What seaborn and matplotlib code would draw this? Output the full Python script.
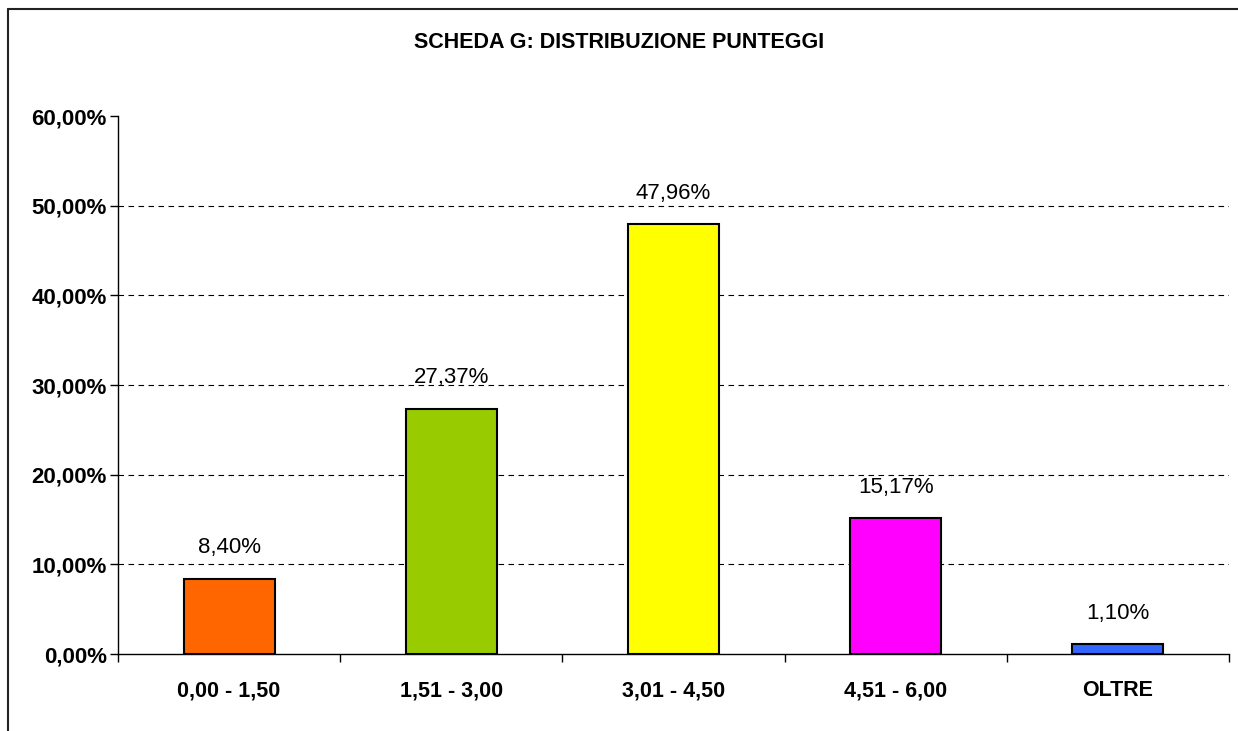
import numpy as np
import pandas as pd
import seaborn as sns
import matplotlib.pyplot as plt
from matplotlib.lines import Line2D
from matplotlib.ticker import FixedLocator, FuncFormatter

# Dati
categorie = ["0,00 - 1,50", "1,51 - 3,00", "3,01 - 4,50", "4,51 - 6,00", "OLTRE"]
percentuali = [8.40, 27.37, 47.96, 15.17, 1.10]
colori = ["#FF6600", "#99CC00", "#FFFF00", "#FF00FF", "#3366FF"]

df = pd.DataFrame({"Fascia": categorie, "Percentuale": percentuali})

sns.set_style("white")
plt.rcParams['font.family'] = ['Liberation Sans', 'DejaVu Sans']
plt.rcParams['text.color'] = 'black'
plt.rcParams['xtick.color'] = 'black'
plt.rcParams['ytick.color'] = 'black'

fig = plt.figure(figsize=(12.38, 7.31), dpi=100)
ax = fig.add_axes([0.0953, 0.1053, 0.8974, 0.736])

sns.barplot(data=df, x="Fascia", y="Percentuale", hue="Fascia", palette=colori,
            legend=False, width=0.41, edgecolor="black", linewidth=1.5,
            saturation=1, ax=ax)

# etichette valori
for i, v in enumerate(percentuali):
    ax.text(i, v + 3.45, f"{v:.2f}%".replace(".", ","), ha="center", va="center",
            fontsize=16, color="black")

ax.set_ylim(0, 60)
ax.set_xlim(-0.5, 4.5)
ax.set_yticks(np.arange(0, 61, 10))
ax.yaxis.set_major_formatter(FuncFormatter(lambda y, p: f"{y:.2f}%".replace(".", ",")))
ax.tick_params(axis="y", which="major", direction="out", length=6, width=1,
               color="black", labelsize=16, pad=2, left=True, labelcolor="black")
for lab in ax.get_yticklabels():
    lab.set_fontweight("bold")

ax.xaxis.set_minor_locator(FixedLocator(np.arange(-0.5, 5, 1)))
ax.tick_params(axis="x", which="major", length=0, labelsize=15.5, pad=19,
               labelcolor="black")
ax.tick_params(axis="x", which="minor", direction="out", length=6, width=1,
               color="black", bottom=True)
for lab in ax.get_xticklabels():
    lab.set_fontweight("bold")

ax.set_xlabel("")
ax.set_ylabel("")

# griglia tratteggiata 10..50
for y in range(10, 60, 10):
    ax.axhline(y, color="black", linestyle=(0, (5, 4)), linewidth=0.8, zorder=0)

sns.despine(ax=ax, top=True, right=True)
ax.spines["left"].set_color("black")
ax.spines["bottom"].set_color("black")
ax.spines["left"].set_linewidth(1)
ax.spines["bottom"].set_linewidth(1)

fig.text(0.5, 1 - 43 / 731, "SCHEDA G: DISTRIBUZIONE PUNTEGGI", ha="center",
         va="center", fontsize=15.5, fontweight="bold", color="black")

# cornice del grafico (visibile a sinistra e in alto)
fig.add_artist(Line2D([8 / 1238, 8 / 1238], [0, 1 - 9 / 731], color="#222222",
                      linewidth=1.5, transform=fig.transFigure))
fig.add_artist(Line2D([8 / 1238, 1], [1 - 9 / 731, 1 - 9 / 731], color="#222222",
                      linewidth=1.5, transform=fig.transFigure))

fig.savefig("out.png", dpi=100)
